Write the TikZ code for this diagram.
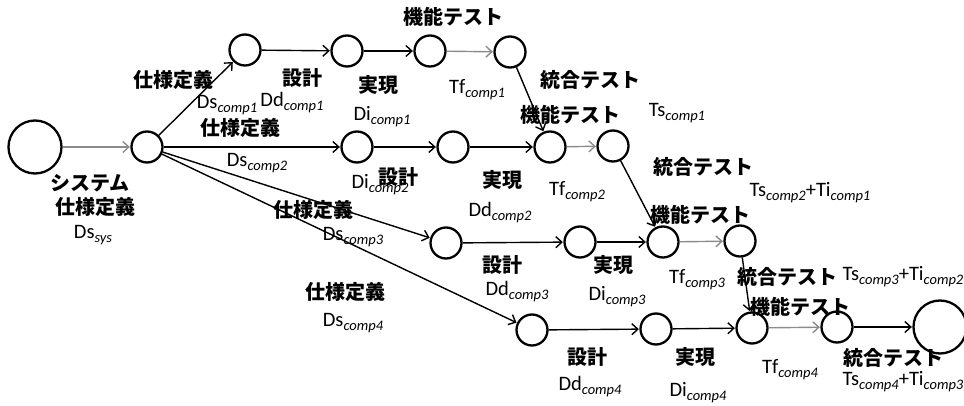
\documentclass[tikz,border=0pt]{standalone}
\usepackage{fontspec}
\setmainfont{Carlito}
\newfontfamily\jpfont{Noto Sans CJK JP}
\usetikzlibrary{arrows.meta}
\newcommand\sbx[1]{\raisebox{-4pt}{\fontsize{14.5}{14}\selectfont\itshape #1}}
\begin{document}
\begin{tikzpicture}[x=1pt,y=-1pt,
 sn/.style={circle,draw,line width=2.3pt,minimum size=31pt,inner sep=0pt},
 bn/.style={circle,draw,line width=2.3pt,minimum size=53pt,inner sep=0pt},
 ed/.style={-{Straight Barb[length=6pt,width=11pt,line width=1.4pt]},line width=1.4pt,shorten >=0.5pt},
 ged/.style={ed,draw=black!45},
 jl/.style={font=\jpfont\fontsize{20}{22}\selectfont\bfseries,inner sep=0pt},
 ll/.style={font=\fontsize{20.5}{22}\selectfont,inner sep=0pt}]
\useasboundingbox (0,0) rectangle (964,406);
% circles
\node[bn] (S) at (35,147) {};
\node[sn] (A) at (147,147) {};
\node[sn] (n1a) at (245,50) {};
\node[sn] (n1b) at (347,51) {};
\node[sn] (n1c) at (430,51) {};
\node[sn] (n1d) at (510,52) {};
\node[sn] (n2a) at (357,147) {};
\node[sn] (n2b) at (453,147) {};
\node[sn] (n2c) at (550,147) {};
\node[sn] (n2d) at (613,146) {};
\node[sn] (n3a) at (446,243) {};
\node[sn] (n3b) at (580,242) {};
\node[sn] (n3c) at (663,242) {};
\node[sn] (n3d) at (740,241) {};
\node[sn] (n4a) at (532,330) {};
\node[sn] (n4b) at (656,329) {};
\node[sn] (n4c) at (752,328) {};
\node[sn] (n4d) at (837,327) {};
\node[bn] (E) at (940,327) {};
% edges
\draw[ged] (S) -- (A);
\draw[ed] (A) -- (n1a);
\draw[ed] (n1a) -- (n1b);
\draw[ed] (n1b) -- (n1c);
\draw[ged] (n1c) -- (n1d);
\draw[ed] (n1d) -- (n2c);
\draw[ed] (A) -- (n2a);
\draw[ed] (n2a) -- (n2b);
\draw[ed] (n2b) -- (n2c);
\draw[ged] (n2c) -- (n2d);
\draw[ed] (n2d) -- (n3c);
\draw[ed] (A) -- (n3a);
\draw[ed] (n3a) -- (n3b);
\draw[ed] (n3b) -- (n3c);
\draw[ged] (n3c) -- (n3d);
\draw[ed] (n3d) -- (n4c);
\draw[ed] (A) -- (n4a);
\draw[ed] (n4a) -- (n4b);
\draw[ed] (n4b) -- (n4c);
\draw[ged] (n4c) -- (n4d);
\draw[ed] (n4d) -- (E);
% labels
\node[jl] (j1) at (173,80) {仕様定義};
\node[ll] (t1) at (227,105) {Ds\sbx{comp1}};
\node[jl] (j2) at (240,128) {仕様定義};
\node[ll] (t2) at (257,163) {Ds\sbx{comp2}};
\node[jl] (j3a) at (90,183) {システム};
\node[jl] (j3b) at (95,207) {仕様定義};
\node[ll] (t3) at (93,235) {Ds\sbx{sys}};
\node[jl] (j4) at (302,78) {設計};
\node[ll] (t4) at (292,103) {Dd\sbx{comp1}};
\node[jl] (j5) at (378,85) {実現};
\node[ll] (t5) at (382,117) {Di\sbx{comp1}};
\node[jl] (j6) at (453,17) {機能テスト};
\node[ll] (t6) at (477,90) {Tf\sbx{comp1}};
\node[jl] (j7) at (590,80) {統合テスト};
\node[ll] (t7) at (677,113) {Ts\sbx{comp1}};
\node[jl] (j8) at (570,115) {機能テスト};
\node[ll] (t8) at (577,192) {Tf\sbx{comp2}};
\node[jl] (j9) at (398,177) {設計};
\node[ll] (t9) at (380,185) {Di\sbx{comp2}};
\node[jl] (j10) at (502,180) {実現};
\node[ll] (t10) at (500,213) {Dd\sbx{comp2}};
\node[jl] (j11) at (703,167) {統合テスト};
\node[ll] (t11) at (810,193) {Ts\sbx{comp2}+Ti\sbx{comp1}};
\node[jl] (j12) at (313,210) {仕様定義};
\node[ll] (t12) at (353,237) {Ds\sbx{comp3}};
\node[jl] (j13) at (700,215) {機能テスト};
\node[ll] (t13) at (697,280) {Tf\sbx{comp3}};
\node[jl] (j14) at (502,265) {設計};
\node[ll] (t14) at (517,292) {Dd\sbx{comp3}};
\node[jl] (j15) at (613,265) {実現};
\node[ll] (t15) at (617,297) {Di\sbx{comp3}};
\node[jl] (j16) at (787,277) {統合テスト};
\node[ll] (t16) at (903,277) {Ts\sbx{comp3}+Ti\sbx{comp2}};
\node[jl] (j17) at (345,292) {仕様定義};
\node[ll] (t17) at (353,323) {Ds\sbx{comp4}};
\node[jl] (j18) at (800,307) {機能テスト};
\node[ll] (t18) at (790,370) {Tf\sbx{comp4}};
\node[jl] (j19) at (587,357) {設計};
\node[ll] (t19) at (590,387) {Dd\sbx{comp4}};
\node[jl] (j20) at (695,357) {実現};
\node[ll] (t20) at (698,393) {Di\sbx{comp4}};
\node[jl] (j21) at (893,358) {統合テスト};
\node[ll] (t21) at (903,382) {Ts\sbx{comp4}+Ti\sbx{comp3}};
\end{tikzpicture}
\end{document}
